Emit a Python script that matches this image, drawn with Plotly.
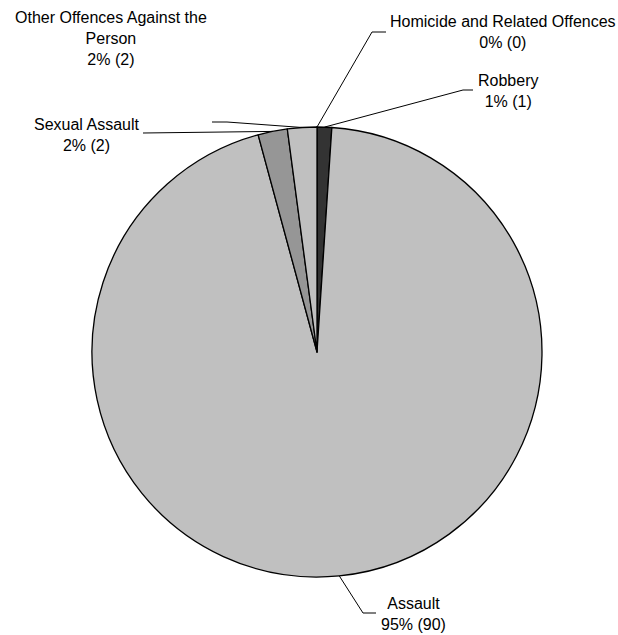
import math
import plotly.graph_objects as go

categories = ["Homicide and Related Offences", "Robbery", "Assault", "Sexual Assault",
              "Other Offences Against the Person"]
values = [0, 1, 90, 2, 2]
colors = ["#808080", "#333333", "#c0c0c0", "#969696", "#c0c0c0"]
label_texts = ["Homicide and Related Offences<br>0% (0)", "Robbery<br>1% (1)",
               "Assault<br>95% (90)", "Sexual Assault<br>2% (2)",
               "Other Offences Against the<br>Person<br>2% (2)"]

W, H = 618, 635
cx, cy, R = 317, 352, 225

fig = go.Figure(go.Pie(
    labels=categories, values=values, sort=False, direction="clockwise", rotation=0,
    marker=dict(colors=colors, line=dict(color="#000000", width=1.3)),
    textinfo="none", hoverinfo="label+value+percent", showlegend=False,
    domain=dict(x=[(cx - R) / W, (cx + R) / W], y=[1 - (cy + R) / H, 1 - (cy - R) / H]),
))

# label positions (layout): text centre, elbow point, horizontal end
label_pos = {
    "Homicide and Related Offences": dict(tx=503, ty=32, ex=372, ey=32, hx=386),
    "Robbery": dict(tx=508, ty=91, ex=463, ey=90, hx=473),
    "Assault": dict(tx=413, ty=614, ex=363, ey=613, hx=376),
    "Sexual Assault": dict(tx=87, ty=135, ex=143, ey=133, hx=143),
    "Other Offences Against the Person": dict(tx=111, ty=38, ex=227, ey=122, hx=212),
}

total = sum(values)
cum = 0
shapes = []
annotations = []
for cat, v, txt in zip(categories, values, label_texts):
    mid = (cum + v / 2) / total * 2 * math.pi
    cum += v
    px = cx + R * math.sin(mid)
    py = cy - R * math.cos(mid)
    p = label_pos[cat]
    shapes.append(dict(type="path", xref="paper", yref="paper",
                       path=f"M {px / W} {1 - py / H} L {p['ex'] / W} {1 - p['ey'] / H} L {p['hx'] / W} {1 - p['ey'] / H}",
                       line=dict(color="#000000", width=1)))
    annotations.append(dict(x=p["tx"] / W, y=1 - p["ty"] / H, xref="paper", yref="paper",
                            text=txt, showarrow=False, xanchor="center", yanchor="middle",
                            font=dict(family="Liberation Sans, Arial", size=16, color="#000000")))

fig.update_layout(width=W, height=H, margin=dict(l=0, r=0, t=0, b=0),
                  paper_bgcolor="white", plot_bgcolor="white",
                  shapes=shapes, annotations=annotations)
fig.write_html("out.html", config={"displayModeBar": False},
               post_script="document.body.style.margin='0';document.body.style.overflow='hidden';")
